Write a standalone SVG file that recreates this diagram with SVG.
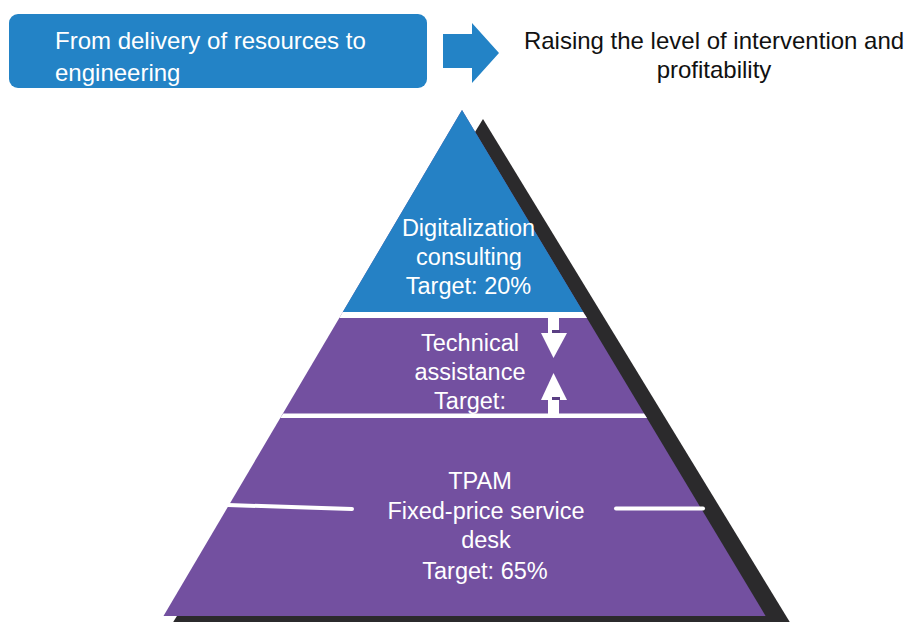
<svg xmlns="http://www.w3.org/2000/svg" width="906" height="622" viewBox="0 0 906 622">
  <style>
    .lbl { font-family: "Liberation Sans", Arial, sans-serif; fill: #ffffff; text-anchor: middle; font-size: 23.5px; }
    .hdr { font-family: "Liberation Sans", Arial, sans-serif; font-size: 24px; }
    .band { fill: #ffffff; }
  </style>

  <!-- Header: source box, arrow, goal text -->
  <g id="header-box">
    <rect x="9" y="14" width="418" height="74" rx="9" fill="#2383c6"/>
    <text class="hdr" x="55" y="49" fill="#ffffff">From delivery of resources to</text>
    <text class="hdr" x="55" y="81" fill="#ffffff">engineering</text>
  </g>
  <g id="connectors">
    <polygon points="443,34 472,34 472,23 499,53 472,83 472,68 443,68" fill="#2383c6"/>
  </g>
  <g id="header-goal">
    <text class="hdr" x="714" y="49" text-anchor="middle" fill="#111111">Raising the level of intervention and</text>
    <text class="hdr" x="714" y="78" text-anchor="middle" fill="#111111">profitability</text>
  </g>

  <!-- Pyramid -->
  <g id="pyramid-shadow">
    <polygon points="483,119 791,624 172,624" fill="#2b2a2c"/>
  </g>
  <g id="tier-base">
    <polygon points="462,110 765.6,616 163.5,616" fill="#7350a0"/>
  </g>
  <g id="tier-top">
    <polygon points="462,110 583.2,312 342.8,312" fill="#2581c5"/>
  </g>
  <!-- white separators between tiers -->
  <polygon class="band" points="342.8,312 583.2,312 587,318 339.3,318"/>
  <polygon class="band" points="283.2,413.5 644,413.5 647,418 280.3,418"/>
  <line x1="228" y1="505" x2="352" y2="509" stroke="#ffffff" stroke-width="4" stroke-linecap="round"/>
  <line x1="616" y1="508.5" x2="703" y2="508.5" stroke="#ffffff" stroke-width="4" stroke-linecap="round"/>

  <g id="tier-top-label">
    <text class="lbl" x="468.5" y="236">Digitalization</text>
    <text class="lbl" x="469" y="265">consulting</text>
    <text class="lbl" x="468.5" y="294">Target: 20%</text>
  </g>

  <g id="tier-middle">
    <text class="lbl" x="470" y="351">Technical</text>
    <text class="lbl" x="470" y="380">assistance</text>
    <text class="lbl" x="470" y="409">Target:</text>
    <!-- double arrow between tiers -->
    <rect x="548" y="317" width="11" height="17" fill="#ffffff"/>
    <polygon points="541,333 567,333 553.5,358" fill="#ffffff"/>
    <rect x="552" y="330" width="8" height="3" fill="#5a3f84"/>
    <polygon points="553.5,373 541,400 567,400" fill="#ffffff"/>
    <rect x="548" y="399" width="11" height="16" fill="#ffffff"/>
    <rect x="552" y="397" width="8" height="3" fill="#5a3f84"/>
  </g>

  <g id="tier-bottom-label">
    <text class="lbl" x="480" y="489">TPAM</text>
    <text class="lbl" x="486" y="519">Fixed-price service</text>
    <text class="lbl" x="486" y="548">desk</text>
    <text class="lbl" x="485" y="579">Target: 65%</text>
  </g>
</svg>
